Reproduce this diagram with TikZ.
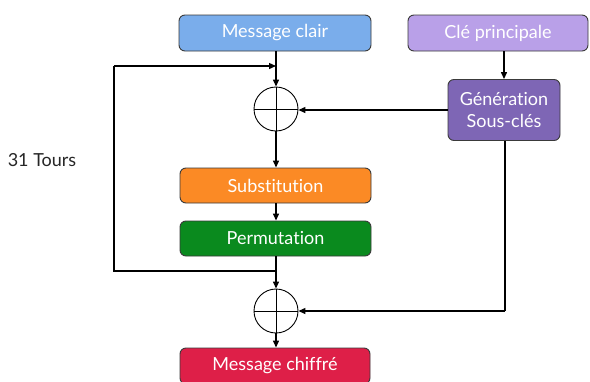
\documentclass[tikz,border=0pt]{standalone}
\usepackage{fontspec}
\setmainfont{Lato}[Ligatures={NoCommon}]
\usetikzlibrary{arrows.meta}
\definecolor{cblue}{HTML}{7AADEB}
\definecolor{clav}{HTML}{B9A0E8}
\definecolor{cpurple}{HTML}{7E66B5}
\definecolor{corange}{HTML}{FB8A25}
\definecolor{cgreen}{HTML}{0A8A1E}
\definecolor{ccrimson}{HTML}{DE1F48}
\definecolor{cedge}{HTML}{3A3A3A}
\begin{document}
\begin{tikzpicture}[x=1pt,y=-1pt,
  box/.style={draw=cedge, line width=0.9pt, rounded corners=6pt, text=white,
    font=\fontsize{18}{22}\selectfont, align=center, inner sep=0pt},
  xorc/.style={draw=black, line width=0.9pt, circle, minimum size=44pt, inner sep=0pt,
    path picture={\draw[line width=0.9pt] (path picture bounding box.north) -- (path picture bounding box.south)
      (path picture bounding box.west) -- (path picture bounding box.east);}},
  link/.style={line width=1.3pt, -{Triangle[length=7pt,width=6pt]}},
  wire/.style={line width=1.3pt}]
\useasboundingbox (0,0) rectangle (590,381);
\fill[white] (0,0) rectangle (590,381);
% processing blocks
\node[box, fill=cblue, minimum width=192pt, minimum height=36pt] (clair) at (275,33) {Message clair};
\node[box, fill=clav, minimum width=180pt, minimum height=36pt] (cle) at (498,33) {Clé principale};
\node[box, fill=cpurple, minimum width=112pt, minimum height=61pt] (gen) at (504,110) {Génération\\Sous-clés};
\node[box, fill=corange, minimum width=191pt, minimum height=35pt] (sub) at (275.5,185.5) {Substitution};
\node[box, fill=cgreen, minimum width=191pt, minimum height=35pt] (perm) at (275.5,238.5) {Permutation};
\node[box, fill=ccrimson, minimum width=190pt, minimum height=36pt] (chif) at (275,366) {Message chiffré};
% xor operators
\node[xorc] (x1) at (276,109) {};
\node[xorc] (x2) at (276,311) {};
% loop corners
\coordinate (top) at (276,66);
\coordinate (bot) at (276,271);
\coordinate (tl) at (114,66);
\coordinate (bl) at (114,271);
\coordinate (kr) at (505,311);
% connectors
\draw[link] (clair.south -| x1) -- (x1.north);
\draw[link] (tl) -- (top);
\draw[wire] (bot) -- (bl) -- (tl);
\draw[link] (gen.west) -- (gen.west -| x1.east);
\draw[link] (cle.south -| gen.north) -- (gen.north);
\draw[link] (x1.south) -- (sub.north -| x1);
\draw[link] (sub.south -| x1) -- (perm.north -| x1);
\draw[link] (perm.south -| x2) -- (x2.north);
\draw[wire] (gen.south -| kr) -- (kr);
\draw[link] (kr) -- (x2.east);
\draw[link] (x2.south) -- (chif.north -| x2);
% round count
\node[font=\fontsize{18}{22}\selectfont, text=black!85] (tours) at (42,160) {31 Tours};
\end{tikzpicture}
\end{document}
